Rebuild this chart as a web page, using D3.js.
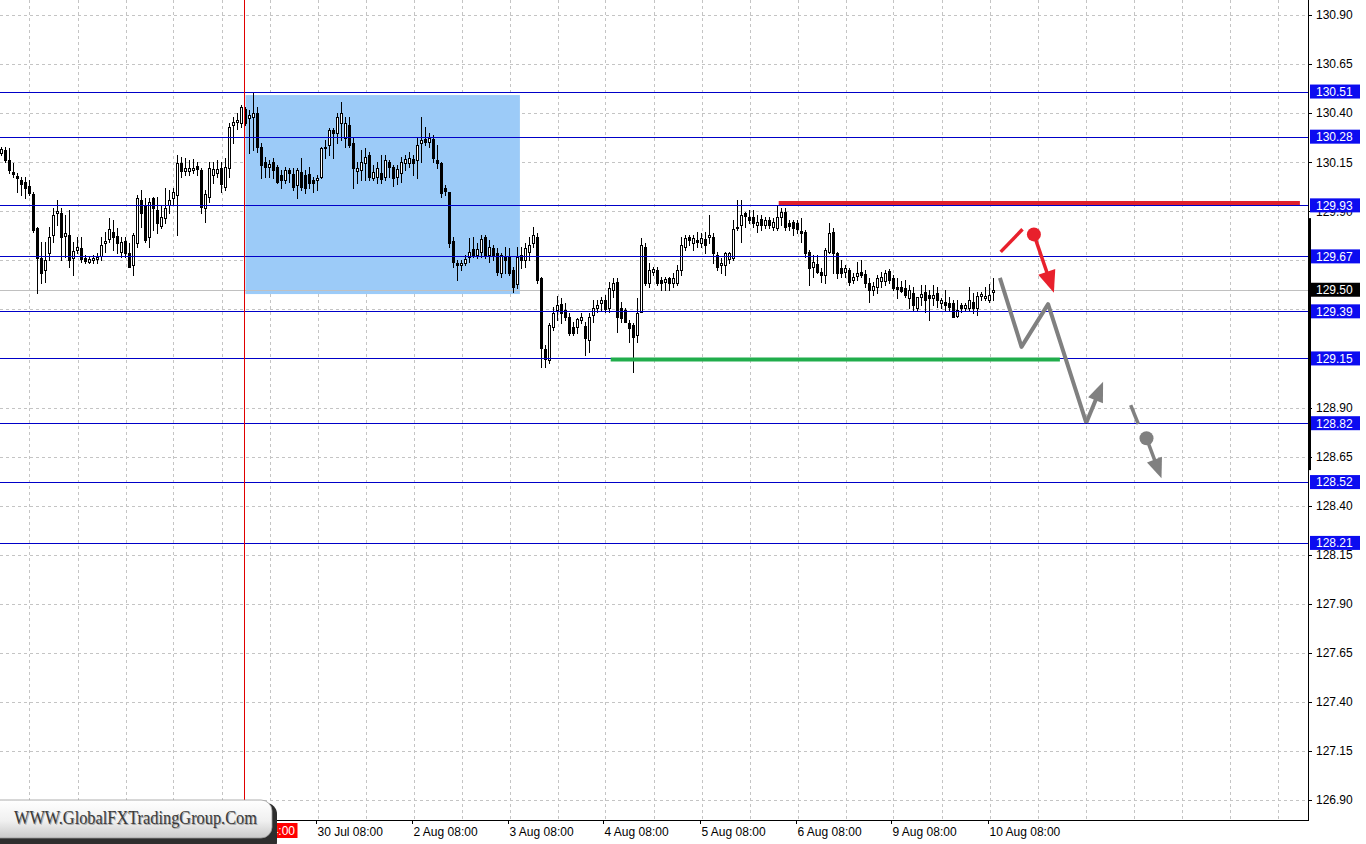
<!DOCTYPE html>
<html><head><meta charset="utf-8">
<script src="https://cdn.jsdelivr.net/npm/d3@7"></script>
<style>body{margin:0;background:#fff;overflow:hidden}svg{display:block}</style>
</head><body>
<svg id="chart" width="1366" height="844"></svg>
<script>
// ---- DATA (USDJPY H1) ----
const open=[130.197,130.212,130.161,130.100,130.079,130.059,130.049,130.028,129.988,129.814,129.661,129.600,129.687,129.779,129.891,129.891,129.773,129.779,129.661,129.702,129.712,129.661,129.641,129.651,129.656,129.672,129.738,129.758,129.794,129.773,129.692,129.748,129.687,129.626,129.738,129.957,129.932,129.768,129.967,129.906,129.825,129.865,129.932,129.967,129.983,130.146,130.105,130.105,130.110,130.130,130.110,129.916,129.972,130.085,130.095,130.120,130.023,130.120,130.339,130.355,130.349,130.421,130.375,130.380,130.400,130.227,130.151,130.125,130.151,130.125,130.085,130.059,130.110,130.090,130.033,130.100,130.085,130.090,130.059,130.059,130.074,130.222,130.237,130.314,130.298,130.349,130.273,130.339,130.248,130.105,130.110,130.146,130.187,130.069,130.074,130.095,130.074,130.151,130.125,130.074,130.095,130.146,130.146,130.166,130.161,130.248,130.268,130.253,130.268,130.161,130.146,130.018,129.998,129.748,129.636,129.626,129.636,129.666,129.707,129.677,129.692,129.768,129.677,129.712,129.687,129.585,129.666,129.666,129.600,129.529,129.677,129.651,129.692,129.738,129.768,129.559,129.198,129.142,129.310,129.396,129.427,129.396,129.361,129.310,129.310,129.346,129.315,129.244,129.371,129.406,129.432,129.447,129.406,129.498,129.539,129.406,129.396,129.330,129.320,129.269,129.386,129.717,129.534,129.590,129.600,129.549,129.539,129.559,129.534,129.534,129.600,129.717,129.768,129.738,129.753,129.738,129.758,129.768,129.768,129.677,129.626,129.626,129.656,129.661,129.814,129.830,129.891,129.870,129.870,129.830,129.860,129.830,129.855,129.819,129.814,129.870,129.896,129.840,129.845,129.840,129.799,129.794,129.692,129.615,129.631,129.590,129.575,129.692,129.794,129.687,129.610,129.590,129.600,129.549,129.569,129.590,129.580,129.534,129.498,129.513,129.544,129.544,129.595,129.559,129.513,129.513,129.508,129.457,129.483,129.406,129.462,129.488,129.473,129.457,129.483,129.432,129.437,129.432,129.432,129.366,129.422,129.406,129.406,129.437,129.406,129.468,129.457,129.447,129.488];
const high=[130.227,130.227,130.222,130.146,130.095,130.074,130.074,130.059,129.998,129.819,129.743,129.743,129.819,129.916,129.957,129.916,129.881,129.906,129.743,129.768,129.768,129.677,129.672,129.677,129.687,129.768,129.794,129.865,129.855,129.814,129.768,129.768,129.738,129.789,129.983,130.008,129.967,129.967,129.972,129.972,129.926,130.018,130.008,130.018,130.187,130.176,130.171,130.161,130.166,130.151,130.120,130.008,130.151,130.151,130.161,130.151,130.171,130.349,130.380,130.400,130.441,130.431,130.416,130.507,130.431,130.248,130.176,130.161,130.171,130.136,130.110,130.125,130.120,130.120,130.120,130.171,130.110,130.125,130.074,130.085,130.227,130.263,130.324,130.324,130.400,130.456,130.380,130.380,130.273,130.151,130.212,130.222,130.202,130.136,130.151,130.187,130.187,130.161,130.136,130.136,130.176,130.187,130.202,130.187,130.273,130.380,130.329,130.298,130.288,130.237,130.151,130.033,129.998,129.768,129.651,129.651,129.677,129.763,129.768,129.738,129.779,129.779,129.753,129.727,129.712,129.687,129.717,129.712,129.615,129.717,129.717,129.738,129.768,129.819,129.789,129.564,129.218,129.330,129.411,129.468,129.457,129.432,129.381,129.335,129.356,129.381,129.335,129.381,129.447,129.447,129.462,129.473,129.539,129.559,129.559,129.437,129.406,129.346,129.330,129.457,129.763,129.738,129.636,129.615,129.615,129.564,129.564,129.564,129.585,129.626,129.768,129.779,129.779,129.779,129.794,129.789,129.794,129.881,129.789,129.692,129.661,129.692,129.692,129.855,129.957,129.957,129.896,129.906,129.906,129.881,129.881,129.870,129.870,129.865,129.926,129.916,129.916,129.855,129.855,129.855,129.865,129.804,129.702,129.677,129.677,129.610,129.712,129.840,129.814,129.692,129.651,129.626,129.610,129.585,129.641,129.651,129.600,129.559,129.539,129.575,129.590,129.600,129.605,129.575,129.559,129.544,129.549,129.524,129.513,129.462,129.524,129.524,129.498,129.524,129.513,129.457,129.498,129.462,129.447,129.447,129.432,129.432,129.513,129.483,129.488,129.488,129.513,129.529,129.559];
const low=[130.187,130.151,130.095,130.074,129.998,129.983,129.967,129.983,129.794,129.483,129.534,129.539,129.651,129.743,129.830,129.651,129.666,129.615,129.575,129.687,129.641,129.636,129.636,129.636,129.636,129.651,129.692,129.743,129.702,129.687,129.666,129.666,129.615,129.575,129.717,129.819,129.743,129.717,129.804,129.789,129.814,129.840,129.891,129.932,129.779,130.074,130.085,130.085,130.095,130.085,129.891,129.845,129.947,130.044,130.074,129.998,130.008,130.074,130.248,130.319,130.329,130.339,130.197,130.212,130.202,130.069,130.074,130.074,130.069,130.044,130.018,130.044,130.049,130.008,129.967,130.008,129.993,130.018,129.998,130.008,130.069,130.171,130.187,130.171,130.248,130.263,130.227,130.227,130.018,130.044,130.059,130.059,130.059,130.059,130.044,130.044,130.059,130.074,130.028,130.039,130.049,130.110,130.125,130.085,130.069,130.151,130.237,130.227,130.151,130.120,129.972,129.983,129.717,129.615,129.549,129.600,129.626,129.641,129.666,129.661,129.666,129.661,129.641,129.651,129.575,129.564,129.585,129.575,129.488,129.508,129.610,129.615,129.651,129.717,129.534,129.106,129.106,129.127,129.295,129.346,129.330,129.346,129.269,129.269,129.279,129.330,129.168,129.183,129.335,129.386,129.396,129.386,129.386,129.462,129.285,129.335,129.335,129.234,129.081,129.234,129.386,129.524,129.513,129.575,129.524,129.498,129.498,129.498,129.513,129.524,129.575,129.702,129.727,129.702,129.717,129.717,129.687,129.738,129.636,129.600,129.585,129.575,129.636,129.651,129.804,129.743,129.819,129.840,129.819,129.794,129.804,129.814,129.814,129.804,129.804,129.830,129.804,129.804,129.779,129.789,129.743,129.666,129.524,129.564,129.585,129.539,129.534,129.687,129.585,129.559,129.564,129.564,129.524,129.534,129.549,129.564,129.513,129.437,129.473,129.483,129.513,129.524,129.534,129.498,129.457,129.488,129.462,129.407,129.396,129.396,129.422,129.386,129.346,129.422,129.411,129.406,129.396,129.396,129.361,129.361,129.386,129.396,129.396,129.381,129.371,129.447,129.447,129.437,129.447];
const close=[130.217,130.161,130.110,130.090,130.069,130.039,130.018,129.993,129.804,129.661,129.585,129.651,129.768,129.881,129.901,129.768,129.789,129.651,129.697,129.717,129.656,129.646,129.656,129.661,129.666,129.727,129.748,129.809,129.768,129.738,129.743,129.687,129.615,129.779,129.967,129.891,129.753,129.947,129.916,129.840,129.870,129.916,129.957,129.998,130.146,130.105,130.120,130.120,130.120,130.115,129.921,129.988,130.120,130.115,130.115,130.039,130.125,130.329,130.355,130.365,130.431,130.349,130.390,130.400,130.227,130.136,130.125,130.141,130.110,130.049,130.059,130.110,130.095,130.023,130.110,130.023,130.018,130.044,130.044,130.069,130.222,130.227,130.314,130.298,130.380,130.400,130.349,130.237,130.120,130.120,130.151,130.176,130.074,130.100,130.120,130.064,130.161,130.125,130.069,130.115,130.151,130.166,130.171,130.146,130.237,130.263,130.253,130.273,130.171,130.146,129.993,130.003,129.738,129.641,129.626,129.636,129.656,129.692,129.677,129.707,129.758,129.677,129.717,129.677,129.590,129.677,129.651,129.585,129.513,129.666,129.651,129.712,129.727,129.779,129.549,129.203,129.147,129.320,129.381,129.422,129.381,129.361,129.279,129.279,129.351,129.361,129.254,129.361,129.406,129.422,129.447,129.401,129.508,129.534,129.361,129.356,129.335,129.305,129.259,129.381,129.727,129.534,129.600,129.605,129.534,129.534,129.554,129.534,129.559,129.600,129.727,129.763,129.753,129.763,129.743,129.763,129.727,129.779,129.687,129.615,129.636,129.687,129.687,129.809,129.819,129.881,129.876,129.855,129.840,129.845,129.830,129.855,129.830,129.845,129.870,129.896,129.819,129.825,129.814,129.809,129.789,129.687,129.610,129.641,129.590,129.575,129.702,129.789,129.687,129.585,129.585,129.610,129.539,129.564,129.585,129.575,129.534,129.498,129.519,129.559,129.564,129.585,129.549,129.508,129.503,129.493,129.473,129.498,129.422,129.462,129.478,129.447,129.457,129.473,129.447,129.447,129.422,129.411,129.361,129.396,129.406,129.422,129.447,129.406,129.468,129.478,129.468,129.473,129.500];

const priceTicks=[130.90,130.65,130.40,130.15,129.90,129.65,129.40,129.15,128.90,128.65,128.40,128.15,127.90,127.65,127.40,127.15,126.90];
const hiddenTickLabels=[129.65,129.40,129.15];   // covered by level labels in the reference
const levelPrices=[130.51,130.28,129.93,129.67,129.39,129.15,128.82,128.52,128.21];
const currentPrice=129.50;
const timeTickIdx=[79,103,127,151,175,199,223,247];
const timeTickLabels=["30 Jul 08:00","2 Aug 08:00","3 Aug 08:00","4 Aug 08:00","5 Aug 08:00","6 Aug 08:00","9 Aug 08:00","10 Aug 08:00"];
const markerIdx=61, markerLabel="29 Jul 14:00";
const boxZone={i0:61,i1:129.6,p0:130.492,p1:129.478};
const resistLine={i0:194.3,i1:324.6,p:129.942};
const supportLine={i0:152.3,i1:264.6,p:129.144};
const grayPath=[[249.6,129.561],[255.0,129.209],[261.65,129.427],[271.2,128.822]];
const grayArrow1=[[271.2,128.822],[275.4,129.031]];
const grayDash=[[282.3,128.912],[284.2,128.816]];
const grayArrow2=[[286.25,128.743],[290.0,128.539]];
const redLine=[[249.8,129.693],[255.25,129.808]];
const redArrow=[[258.1,129.782],[263.1,129.485]];
const rangeBar=[129.865,128.581];

// ---- SCALES ----
const W=1366,H=844,PR=1308,PB=820;
const x=d3.scaleLinear().domain([0,326.5]).range([1.5,1307.5]);
const y=d3.scaleLinear().domain([126.90,130.90]).range([800,15]);
const svg=d3.select("#chart");
const font="'Liberation Sans', Arial, sans-serif";
svg.append("rect").attr("width",W).attr("height",H).attr("fill","#fff");
const defs=svg.append("defs");
defs.append("clipPath").attr("id","plot").append("rect").attr("width",PR).attr("height",PB);
defs.append("clipPath").attr("id","mk").append("rect").attr("x",276).attr("y",820).attr("width",30).attr("height",24);
const g=svg.append("g").attr("clip-path","url(#plot)");
const ry=v=>Math.round(y(v))+0.5;

// grid
g.selectAll(".hg").data(priceTicks).join("line").attr("x1",0).attr("x2",PR)
 .attr("y1",d=>ry(d)).attr("y2",d=>ry(d)).attr("stroke","#c4c4c4").attr("stroke-dasharray","3,3").attr("shape-rendering","crispEdges");
g.selectAll(".vg").data(d3.range(7,327,12)).join("line").attr("y1",0).attr("y2",PB)
 .attr("x1",d=>Math.round(x(d))+0.5).attr("x2",d=>Math.round(x(d))+0.5).attr("stroke","#c4c4c4").attr("stroke-dasharray","3,3").attr("shape-rendering","crispEdges");

// blue zone
g.append("rect").attr("x",x(boxZone.i0)).attr("y",y(boxZone.p0))
 .attr("width",x(boxZone.i1)-x(boxZone.i0)).attr("height",y(boxZone.p1)-y(boxZone.p0)).attr("fill","#9ccbf8");

// current price line
g.append("line").attr("x1",0).attr("x2",PR).attr("y1",ry(currentPrice)).attr("y2",ry(currentPrice)).attr("stroke","#c0c0c0").attr("shape-rendering","crispEdges");

// candles
const cg=g.append("g").attr("shape-rendering","crispEdges");
open.forEach((o,i)=>{
  const c=close[i],cx=x(i);
  const hy=Math.round(y(Math.max(high[i],o,c))), ly=Math.round(y(Math.min(low[i],o,c)));
  cg.append("rect").attr("x",cx-0.5).attr("width",1).attr("y",hy).attr("height",ly-hy+1).attr("fill","#000");
  const t=Math.round(y(Math.max(o,c))), b=Math.round(y(Math.min(o,c)));
  if(c>=o){
    cg.append("rect").attr("x",cx-1).attr("width",2).attr("y",t+0.5).attr("height",Math.max(b-t,1)).attr("fill","#fff").attr("stroke","#000");
  }else{
    cg.append("rect").attr("x",cx-1.5).attr("width",3).attr("y",t).attr("height",Math.max(b-t+1,2)).attr("fill","#000");
  }
});

// level lines
g.selectAll(".lv").data(levelPrices).join("line").attr("x1",0).attr("x2",PR)
 .attr("y1",d=>ry(d)).attr("y2",d=>ry(d)).attr("stroke","#0000c8").attr("shape-rendering","crispEdges");

// red vertical marker
g.append("line").attr("x1",Math.round(x(markerIdx))-0.5).attr("x2",Math.round(x(markerIdx))-0.5).attr("y1",0).attr("y2",PB).attr("stroke","#e00000").attr("shape-rendering","crispEdges");

// resistance & support
g.append("line").attr("x1",x(resistLine.i0)).attr("x2",x(resistLine.i1)).attr("y1",y(resistLine.p)).attr("y2",y(resistLine.p)).attr("stroke","#e0202c").attr("stroke-width",4);
g.append("line").attr("x1",x(supportLine.i0)).attr("x2",x(supportLine.i1)).attr("y1",y(supportLine.p)).attr("y2",y(supportLine.p)).attr("stroke","#21ad4c").attr("stroke-width",4);

// forecast annotations
const pt=d=>[x(d[0]),y(d[1])];
const line=d3.line();
function arrow(seg,color,w,L,HW){
  const a=pt(seg[0]),b=pt(seg[1]);
  const dx=b[0]-a[0],dy=b[1]-a[1],len=Math.hypot(dx,dy),ux=dx/len,uy=dy/len;
  const bx=b[0]-ux*L,by=b[1]-uy*L;
  g.append("path").attr("d",line([a,[b[0]-ux*L*0.6,b[1]-uy*L*0.6]])).attr("stroke",color).attr("stroke-width",w).attr("fill","none");
  g.append("path").attr("d",line([b,[bx-uy*HW,by+ux*HW],[bx+uy*HW,by-ux*HW]])+"Z").attr("fill",color);
}
g.append("path").attr("d",line(grayPath.map(pt))).attr("stroke","#808080").attr("stroke-width",4).attr("fill","none").attr("stroke-linejoin","round");
arrow(grayArrow1,"#808080",4,20,8);
g.append("path").attr("d",line(grayDash.map(pt))).attr("stroke","#808080").attr("stroke-width",3.5);
arrow(grayArrow2,"#808080",3.5,20,8);
g.append("circle").attr("cx",pt(grayArrow2[0])[0]).attr("cy",pt(grayArrow2[0])[1]).attr("r",7).attr("fill","#808080");
g.append("path").attr("d",line(redLine.map(pt))).attr("stroke","#e8202c").attr("stroke-width",3.5);
arrow(redArrow,"#e8202c",3.5,22,9);
g.append("circle").attr("cx",pt(redArrow[0])[0]).attr("cy",pt(redArrow[0])[1]).attr("r",7).attr("fill","#e8202c");

// axes lines
svg.append("line").attr("x1",PR+0.5).attr("x2",PR+0.5).attr("y1",0).attr("y2",PB+1).attr("stroke","#000").attr("shape-rendering","crispEdges");
svg.append("line").attr("x1",0).attr("x2",PR+1).attr("y1",PB+0.5).attr("y2",PB+0.5).attr("stroke","#000").attr("shape-rendering","crispEdges");

// price tick labels
svg.selectAll(".pt").data(priceTicks).join("line").attr("x1",PR).attr("x2",PR+4).attr("y1",d=>ry(d)).attr("y2",d=>ry(d)).attr("stroke","#000").attr("shape-rendering","crispEdges");
svg.selectAll(".ptl").data(priceTicks.filter(p=>!hiddenTickLabels.includes(p))).join("text").attr("x",1316).attr("y",d=>y(d)).attr("dy","0.36em")
 .attr("font-family",font).attr("font-size",12).attr("fill","#000").text(d=>d.toFixed(2));

// level labels
const lg=svg.append("g");
levelPrices.forEach(p=>{
  lg.append("rect").attr("x",1310).attr("y",y(p)-7).attr("width",50).attr("height",14).attr("fill","#0c0cf0");
  lg.append("text").attr("x",1316).attr("y",y(p)).attr("dy","0.36em").attr("font-family",font).attr("font-size",12).attr("fill","#fff").text(p.toFixed(2));
});
lg.append("rect").attr("x",1310).attr("y",y(currentPrice)-7).attr("width",50).attr("height",14).attr("fill","#000");
lg.append("text").attr("x",1316).attr("y",y(currentPrice)).attr("dy","0.36em").attr("font-family",font).attr("font-size",12).attr("fill","#fff").text(currentPrice.toFixed(2));

// range bar on axis
svg.append("rect").attr("x",PR).attr("width",3).attr("y",y(rangeBar[0])).attr("height",y(rangeBar[1])-y(rangeBar[0])).attr("fill","#000");

// time labels
timeTickIdx.forEach((t,k)=>{
  const tx=Math.round(x(t))-1.5;
  svg.append("line").attr("x1",tx).attr("x2",tx).attr("y1",PB).attr("y2",PB+4).attr("stroke","#000").attr("shape-rendering","crispEdges");
  svg.append("text").attr("x",tx+1).attr("y",836).attr("font-family",font).attr("font-size",12).attr("fill","#000").text(timeTickLabels[k]);
});
// vertical-line time label (mostly hidden behind watermark in the reference)
const mx=x(markerIdx);
const mg=svg.append("g").attr("clip-path","url(#mk)");
mg.append("rect").attr("x",mx-52).attr("y",823).attr("width",104).attr("height",15).attr("fill","#ff0000");
mg.append("text").attr("x",295).attr("y",835).attr("text-anchor","end").attr("font-family",font).attr("font-size",12).attr("fill","#fff").text(markerLabel);

// watermark
const gr=defs.append("linearGradient").attr("id","wm").attr("x1",0).attr("y1",0).attr("x2",0).attr("y2",1);
gr.append("stop").attr("offset","0%").attr("stop-color","#ffffff");
gr.append("stop").attr("offset","55%").attr("stop-color","#f0f0f0");
gr.append("stop").attr("offset","100%").attr("stop-color","#c9c9c9");
const wg=svg.append("g");
wg.append("rect").attr("x",-12).attr("y",803).attr("width",289).attr("height",50).attr("rx",11).attr("fill","#2e2e2e");
wg.append("rect").attr("x",-12).attr("y",800).attr("width",284).attr("height",38).attr("rx",11).attr("fill","url(#wm)").attr("stroke","#9a9a9a").attr("stroke-width",0.8);
wg.append("text").attr("x",15).attr("y",825).attr("font-family","'Liberation Serif', 'Times New Roman', serif").attr("font-size",19)
 .attr("textLength",243).attr("lengthAdjust","spacingAndGlyphs").attr("fill","#a8a8a8").text("WWW.GlobalFXTradingGroup.Com");
wg.append("text").attr("x",14).attr("y",824).attr("font-family","'Liberation Serif', 'Times New Roman', serif").attr("font-size",19)
 .attr("textLength",243).attr("lengthAdjust","spacingAndGlyphs").attr("fill","#3a3a3a").text("WWW.GlobalFXTradingGroup.Com");
</script>
</body></html>
